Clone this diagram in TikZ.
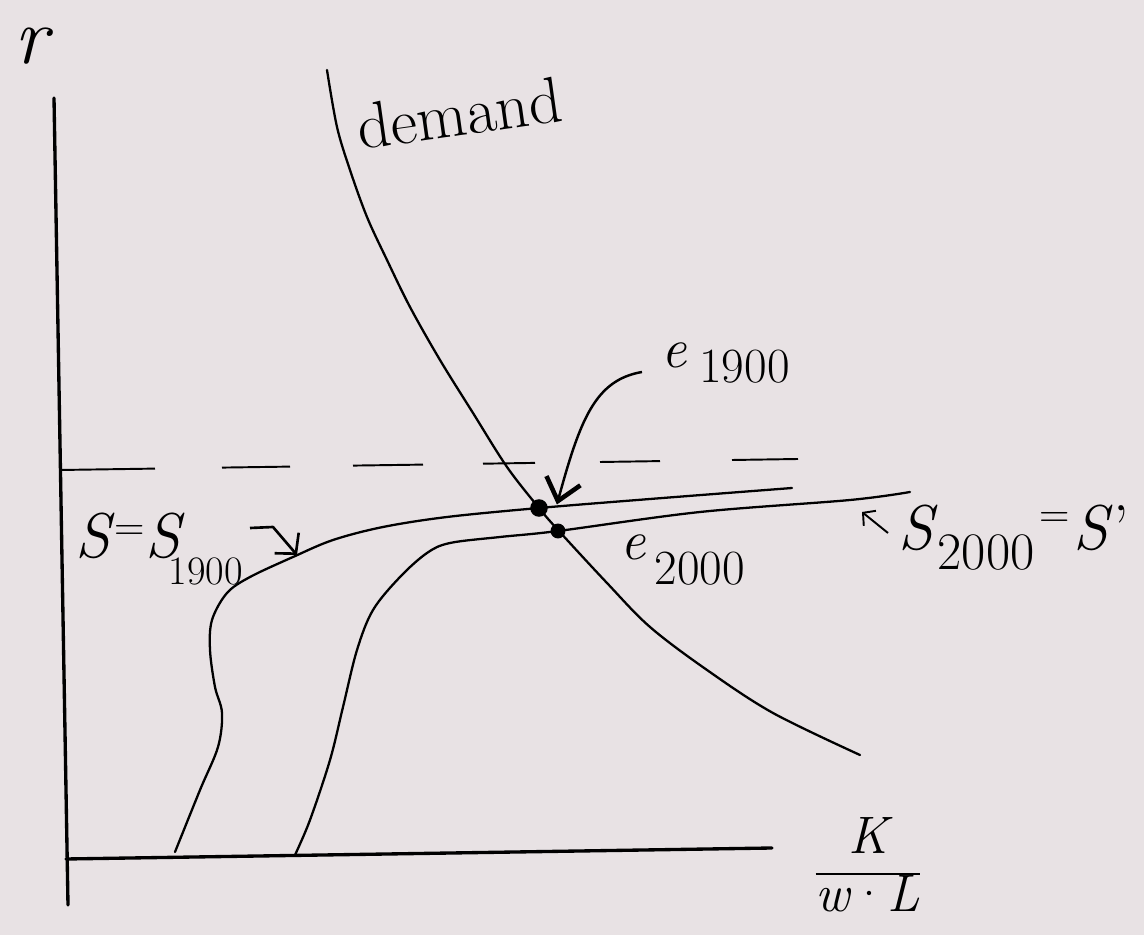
\documentclass[tikz,border=0pt]{standalone}
\usetikzlibrary{arrows.meta}
\definecolor{paper}{RGB}{232,226,228}
\newcommand\fs[1]{\fontsize{#1}{#1}\selectfont}
\begin{document}
\begin{tikzpicture}[x=0.02cm,y=-0.02cm,
  axis/.style={line width=1.9pt, line cap=round},
  curve/.style={line width=1.3pt, line cap=round, line join=round},
  dashline/.style={line width=1.1pt},
  dot/.style={circle, fill=black, inner sep=0pt},
  lbl/.style={inner sep=0pt, anchor=base west},
  bigarrow/.style={line width=1.4pt, -{Straight Barb[length=12pt,width=20pt,line width=2.6pt]}},
  midarrow/.style={line width=1.5pt, line join=round, -{Straight Barb[length=8pt,width=18pt,line width=1.5pt]}},
  smallarrow/.style={line width=1.1pt, -{Straight Barb[length=5pt,width=11pt,line width=1.1pt]}}
]
\fill[paper] (0,0) rectangle (1144,935);
\useasboundingbox (0,0) rectangle (1144,935);

% axes
\coordinate (ytop) at (54,98);
\coordinate (ybot) at (68,905);
\coordinate (xl) at (66,859);
\coordinate (xr) at (772,848);
\draw[axis] (ytop) -- (ybot);
\draw[axis] (xl) -- (xr);

% dashed level
\foreach \a/\b/\c/\d in {60/470/155/468.6, 222/467.6/290/466.6, 353/465.6/423/464.6, 483/463.7/535/462.9, 600/462/660/461.1, 732/460/798/459}
  \draw[dashline] (\a,\b) -- (\c,\d);

% demand
\draw[curve] plot[smooth, tension=0.55] coordinates {(327,70) (337,127) (350,170) (367,217) (387,260) (410,307) (440,360) (473,413) (507,467) (539,508) (558,530) (607,583) (650,627) (707,670) (773,713) (860,755)};

% S1900
\draw[curve] plot[smooth, tension=0.55] coordinates {(175,852) (200,790) (218,747) (222,713) (215,687) (210,650) (212,620) (227,593) (250,577) (293,557) (333,540) (383,527) (447,517) (539,508) (650,499) (792,488)};

% S2000
\draw[curve] plot[smooth, tension=0.55] coordinates {(295,855) (310,820) (330,760) (343,707) (357,650) (373,610) (400,577) (427,553) (450,543) (500,537) (558,531) (700,512) (850,500) (910,492)};

% equilibrium dots
\node[dot, minimum size=10pt] (d1) at (539,508) {};
\node[dot, minimum size=8.5pt] (d2) at (558,531) {};

% labels
\node[lbl] (rlab) at (14,64) {\fs{46}\itshape r};
\node[lbl, rotate=8] (dem) at (360,150) {\fs{37}demand};
\node[lbl] (l1) at (661,368) {\fs{32}\itshape e\/\hspace{7pt}\raisebox{-8.5pt}{\fs{28}\upshape 1900}};
\node[lbl] (l2) at (620,560) {\fs{32}\itshape e\/\hspace{5pt}\raisebox{-14pt}{\fs{28}\upshape 2000}};
\node[lbl] (s1lab) at (75,558) {\fs{36}\itshape S\/\raisebox{10pt}{\fs{24}\upshape =}\itshape S\/\kern-9pt\raisebox{-15pt}{\fs{23}\upshape 1900}};
\node[lbl] (s2lab) at (898,550) {\fs{36}\itshape S\/\raisebox{-11pt}{\fs{30}\upshape 2000}\hspace{3pt}\raisebox{13pt}{\fs{24}\upshape =}\hspace{2pt}\itshape S\upshape\/'};
\node (frac) at (868,872) {\fs{30}\setlength\arrayrulewidth{1.3pt}\begin{tabular}{@{}c@{}}\itshape K\\[2pt]\hline\itshape w\upshape\textperiodcentered\itshape L\end{tabular}};

% arrows
\coordinate (a1) at (642,372);
\draw[bigarrow] (a1) .. controls (595,380) and (580,420) .. ([xshift=5pt,yshift=2pt]d1.east);
\coordinate (a2) at (250,528);
\coordinate (a2k) at (273,527);
\coordinate (a2t) at (297,555);
\draw[midarrow] (a2) -- (a2k) -- (a2t);
\coordinate (a3) at (888,533);
\coordinate (a3t) at (862,512);
\draw[smallarrow] (a3) -- (a3t);
\end{tikzpicture}
\end{document}
